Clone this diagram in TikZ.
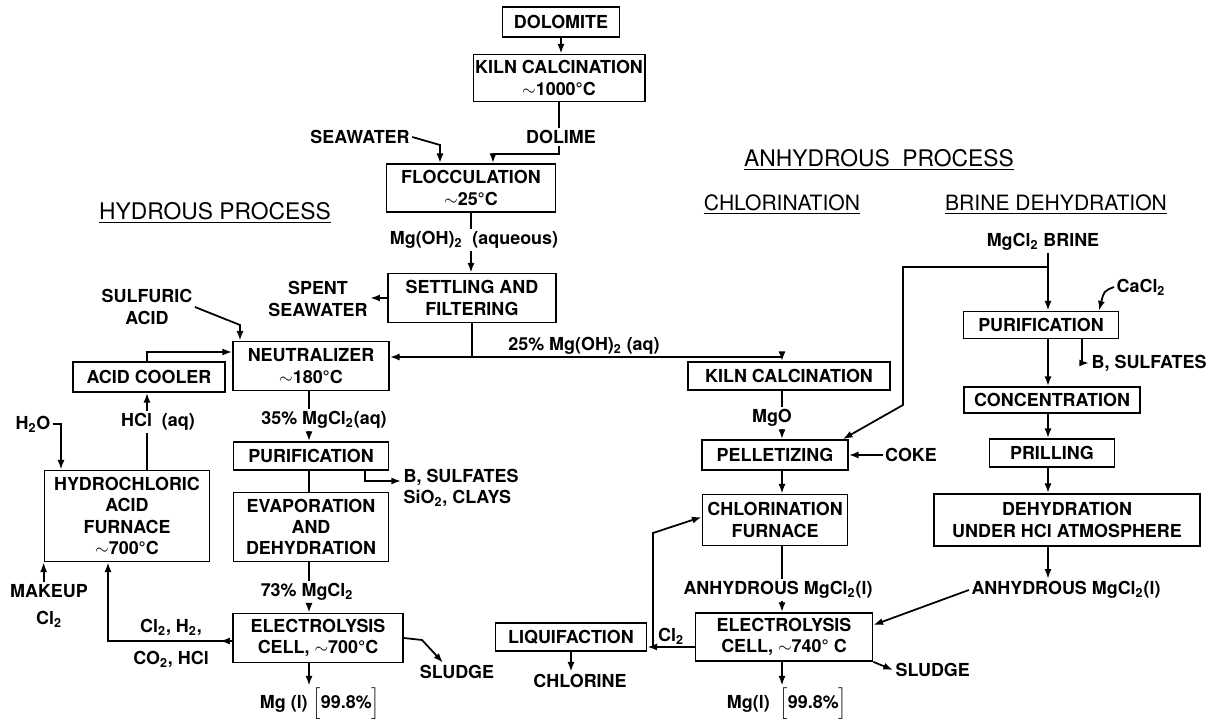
\documentclass[tikz,border=0pt]{standalone}
\usepackage{fontspec}
\setmainfont{TeX Gyre Heros}
\usetikzlibrary{arrows.meta,calc}
\newcommand{\lo}[1]{\textsubscript{#1}}

\begin{document}
\begin{tikzpicture}[x=0.02cm,y=-0.02cm,line width=1pt,
	>={Latex[length=5.5pt,width=4pt]},
	box/.style={draw,align=center,inner sep=1pt,font=\fontsize{10.2}{12.2}\selectfont\bfseries},
	sz/.style 2 args={minimum width=#1*0.02cm,minimum height=#2*0.02cm},
	lbl/.style={align=center,inner sep=1pt,font=\fontsize{10.2}{12.2}\selectfont\bfseries},
	head/.style={font=\fontsize{13}{15}\selectfont},
	subhead/.style={font=\fontsize{12}{14}\selectfont}]
	\useasboundingbox (0,0) rectangle (1228,719);

	% headings
	\node[head] (hydhead) at (215,213) {\underline{HYDROUS PROCESS}};
	\node[head] (anhhead) at (879,160) {\underline{ANHYDROUS\ \ PROCESS}};
	\node[subhead] (chlhead) at (782,205) {\underline{CHLORINATION}};
	\node[subhead] (brnhead) at (1056,205) {\underline{BRINE DEHYDRATION}};

	% columns
	\coordinate (hx) at (309,0);
	\coordinate (cx) at (782,0);
	\coordinate (bx) at (1048,0);

	% seawater part
	\node[box,sz={117}{30}] (dolomite) at (561,22) {DOLOMITE};
	\node[box,sz={160}{47}] (kiln1) at (559,78) {KILN CALCINATION\\$\sim$1000°C};
	\node[lbl] (dolime) at (561,137) {DOLIME};
	\node[lbl] (seawater) at (360,137) {SEAWATER};
	\node[box,sz={169}{48}] (flocc) at (471,188) {FLOCCULATION\\$\sim$25°C};
	\node[lbl] (mgoh) at (474,240) {Mg(OH)\lo{2}\ \ (aqueous)};
	\node[box,sz={168}{49}] (settle) at (472,298) {SETTLING AND\\FILTERING};
	\node[lbl] (spent) at (318,299) {SPENT\\SEAWATER};
	\node[lbl] (aq25) at (584,346) {25\% Mg(OH)\lo{2} (aq)};
	\coordinate (split) at (472,357);

	% hydrous
	\node[box,sz={156}{49}] (neutral) at (311,366) {NEUTRALIZER\\$\sim$180°C};
	\node[lbl] (sulfuric) at (147,307) {SULFURIC\\ACID};
	\node[box,sz={152}{30}] (cooler) at (149,377) {ACID COOLER};
	\node[lbl] (hclaq) at (158,422) {HCl\ \ (aq)};
	\node[lbl] (water) at (33,424) {H\lo{2}O};
	\node[box,sz={165}{91}] (furnace) at (127,516) {HYDROCHLORIC\\ACID\\FURNACE\\$\sim$700°C};
	\node[lbl] (makeup) at (49,606) {MAKEUP\\[3pt]Cl\lo{2}};
	\node[lbl] (gases) at (171,643) {Cl\lo{2}, H\lo{2},\\[6pt]CO\lo{2}, HCl};
	\node[lbl] (mgcl35) at (324,420) {35\% MgCl\lo{2}(aq)};
	\node[box,sz={155}{28}] (purif1) at (311,456) {PURIFICATION};
	\node[lbl,anchor=west,align=left] (bsulf1) at (401,488) {B, SULFATES\\SiO\lo{2}, CLAYS};
	\node[box,sz={155}{69}] (evap) at (311,527) {EVAPORATION\\AND\\DEHYDRATION};
	\node[lbl] (mgcl73) at (307,592) {73\% MgCl\lo{2}};
	\node[box,sz={170}{49}] (elec1) at (318,638) {ELECTROLYSIS\\CELL, $\sim$700°C};
	\node[lbl] (mg1) at (320,704) {Mg (l) $\Big[$99.8\%$\Big]$};
	\node[lbl] (sludge1) at (457,672) {SLUDGE};

	% chlorination
	\node[box,sz={202}{28}] (kiln2) at (789,376) {KILN CALCINATION};
	\node[lbl] (mgo) at (772,418) {MgO};
	\node[box,sz={146}{30}] (pellet) at (775,455) {PELLETIZING};
	\node[lbl] (coke) at (911,455) {COKE};
	\node[box,sz={145}{51}] (chlfurn) at (775,520) {CHLORINATION\\FURNACE};
	\node[lbl] (anh1) at (778,590) {ANHYDROUS\ MgCl\lo{2}(l)};
	\node[box,sz={177}{48}] (elec2) at (784,637) {ELECTROLYSIS\\CELL, $\sim$740° C};
	\node[lbl] (mg2) at (787,704) {Mg(l)\ \ $\Big[$99.8\%$\Big]$};
	\node[lbl,anchor=west] (sludge2) at (893,670) {SLUDGE};
	\node[box,sz={151}{28}] (liquif) at (571,637) {LIQUIFACTION};
	\node[lbl] (cl2) at (671,636) {Cl\lo{2}};
	\node[lbl] (chlorine) at (580,681) {CHLORINE};

	% brine dehydration
	\node[lbl] (brine) at (1043,242) {MgCl\lo{2} BRINE};
	\node[box,sz={155}{27}] (purif2) at (1041,325) {PURIFICATION};
	\node[lbl] (cacl) at (1141,287) {CaCl\lo{2}};
	\node[lbl,anchor=west] (bsulf2) at (1089,363) {B, SULFATES};
	\node[box,sz={176}{26}] (conc) at (1052,400) {CONCENTRATION};
	\node[box,sz={125}{28}] (prill) at (1052,453) {PRILLING};
	\node[box,sz={266}{52}] (dehyd) at (1067,520) {DEHYDRATION\\UNDER HCl ATMOSPHERE};
	\node[lbl] (anh2) at (1066,590) {ANHYDROUS\ MgCl\lo{2}(l)};

	% top connectors
	\coordinate (dl) at (559,154);
	\coordinate (swx) at (440,0);
	\draw[->] (dolomite.south) -- (dolomite.south |- kiln1.north);
	\draw (kiln1.south) -- (kiln1.south |- dolime.north);
	\draw[->] (kiln1.south |- dolime.south) -- (dl) -| ($(flocc.north)+(22,0)$);
	\draw[->] (seawater.east) -- (440,145) -- (flocc.north -| swx);
	\draw (flocc.south) -- (mgoh.north -| flocc.south);
	\draw[->] (mgoh.south -| flocc.south) -- (settle.north -| flocc.south);
	\draw[->] (settle.west) -- (spent.east |- settle.west);
	\draw (settle.south) -- (split);
	\draw[->] (split) -- (split -| neutral.east);
	\draw[->] (split) -| (kiln2.north -| cx);

	% hydrous connectors
	\coordinate (sx) at (240,0);
	\coordinate (ax) at (147,0);
	\coordinate (ny) at (0,352);
	\coordinate (wx) at (61,0);
	\coordinate (gy) at (0,641);
	\coordinate (fx) at (108,0);
	\coordinate (px) at (365,0);
	\coordinate (by) at (0,481);
	\draw[->] (sulfuric.east) -- (240,325) -- (neutral.north -| sx);
	\draw[->] (cooler.north -| ax) |- (neutral.west |- ny);
	\draw[->] (hclaq.north -| ax) -- (cooler.south -| ax);
	\draw (furnace.north -| ax) -- (hclaq.south -| ax);
	\draw[->] (water.east) -| (furnace.north -| wx);
	\draw[->] (makeup.north -| furnace.west) -- (furnace.south west);
	\draw[->] (elec1.west |- gy) -| (furnace.south -| fx);
	\draw[->] (elec1.west |- gy) -- ++(-12,0);
	\draw (neutral.south -| hx) -- (mgcl35.north -| hx);
	\draw[->] (mgcl35.south -| hx) -- (purif1.north -| hx);
	\draw[->] (purif1.south -| px) |- (bsulf1.west |- by);
	\draw (purif1.south -| hx) -- (evap.north -| hx);
	\draw (evap.south -| hx) -- (mgcl73.north -| hx);
	\draw[->] (mgcl73.south -| hx) -- (elec1.north -| hx);
	\draw[->] (elec1.south -| hx) -- (mg1.north -| hx);
	\draw[->] (elec1.east) -- (422,640) -- ($(sludge1.north)+(-14,0)$);

	% chlorination connectors
	\coordinate (ly) at (0,647);
	\coordinate (cy) at (0,517);
	\coordinate (clbranch) at (653,647);
	\draw (kiln2.south -| cx) -- (mgo.north -| cx);
	\draw[->] (mgo.south -| cx) -- (pellet.north -| cx);
	\draw[->] (coke.west) -- (pellet.east);
	\draw[->] (pellet.south -| cx) -- (chlfurn.north -| cx);
	\draw (chlfurn.south -| cx) -- (anh1.north -| cx);
	\draw[->] (anh1.south -| cx) -- (elec2.north -| cx);
	\draw[->] (elec2.south -| cx) -- (mg2.north -| cx);
	\draw[->] (elec2.south east) -- (sludge2.west);
	\draw[->] (elec2.west |- ly) -- (liquif.east |- ly);
	\draw[->] (clbranch) -- (653,533) -- (chlfurn.west |- cy);
	\draw[->] (liquif.south) -- (liquif.south |- chlorine.north);

	% brine connectors
	\coordinate (bj) at (1048,267);
	\coordinate (ccx) at (1099,0);
	\coordinate (bsx) at (1082,0);
	\draw[->] (brine.south -| bx) -- (purif2.north -| bx);
	\draw[->] (bj) -- (903,267) -- (903,405) -- ($(pellet.north east)+(-6,0)$);
	\draw[->] (cacl.west) .. controls (1104,291) .. (purif2.north -| ccx);
	\draw[->] (purif2.south -| bsx) |- (bsulf2.west);
	\draw[->] (purif2.south -| bx) -- (conc.north -| bx);
	\draw[->] (conc.south -| bx) -- (prill.north -| bx);
	\draw[->] (prill.south -| bx) -- (dehyd.north -| bx);
	\draw[->] (dehyd.south -| bx) -- (anh2.north -| bx);
	\draw[->] (anh2.west) -- ($(elec2.east)+(0,-12)$);
\end{tikzpicture}
\end{document}
